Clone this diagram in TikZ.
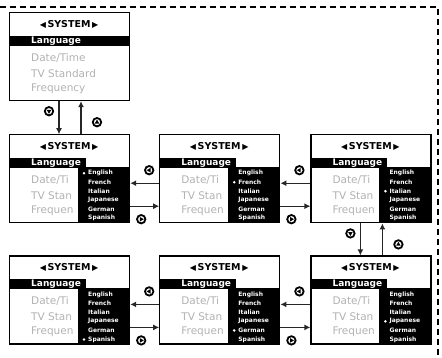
\documentclass[tikz,border=0pt]{standalone}
\usepackage{fontspec}
\setmainfont{DejaVu Sans}
\usetikzlibrary{arrows,arrows.meta,positioning}

\tikzstyle{screen} = [rectangle, draw, line width=1.2pt, minimum width=120pt,
    minimum height=88pt, inner sep=0pt]
\tikzstyle{head} = [inner sep=0pt, font=\bfseries\fontsize{9.5}{9.5}\selectfont]
\tikzstyle{item} = [anchor=west, inner sep=0pt, text=black!30,
    font=\fontsize{10.5}{10.5}\selectfont]
\tikzstyle{sel} = [anchor=west, inner sep=0pt, text=white,
    font=\bfseries\fontsize{9}{9}\selectfont]
\tikzstyle{lang} = [anchor=west, inner sep=0pt, text=white,
    font=\bfseries\fontsize{6}{6}\selectfont]
\tikzstyle{link} = [->, >={Latex[length=6pt,width=6pt]}, line width=1.2pt, black!85]

\tikzset{pics/keybtn/.style={code={
    \draw[black, line width=1.8pt] (0,0) circle (4.2pt);
    \fill[black] (#1:2.6pt) -- (#1+120:2.6pt) -- (#1+240:2.6pt) -- cycle;}}}

% #1 screen node, #2 marked language (0 = no list open)
\newcommand{\screenbody}[2]{
  \begin{scope}[shift={(#1.north west)}]
    \node[head] (#1-head) at (60,-12)
      {{\fontsize{8}{8}\selectfont ◀}\,SYSTEM\,{\fontsize{8}{8}\selectfont ▶}};
    \ifnum#2=0
      \fill[black] (0,-24) rectangle (120,-34);
      \node[sel] (#1-sel) at (22,-29) {Language};
      \node[item] (#1-date) at (22,-46) {Date/Time};
      \node[item] (#1-tv) at (22,-61.5) {TV Standard};
      \node[item] (#1-freq) at (22,-76.5) {Frequency};
    \else
      \fill[black] (0,-24) rectangle (77,-34);
      \node[sel] (#1-sel) at (22,-29) {Language};
      \node[item] (#1-date) at (22,-46) {Date/Ti};
      \node[item] (#1-tv) at (22,-61.5) {TV Stan};
      \node[item] (#1-freq) at (22,-76.5) {Frequen};
      \fill[black] (69,-33) rectangle (120,-88);
      \foreach \lng [count=\i] in {English,French,Italian,Japanese,German,Spanish} {
        \node[lang] (#1-l\i) at (79,{-39-9*(\i-1)}) {\lng};
        \ifnum\i=#2 \fill[white] (75,{-39-9*(\i-1)}) circle (1.4pt); \fi
      }
    \fi
  \end{scope}}

\begin{document}
\begin{tikzpicture}[x=1pt,y=1pt]
  \useasboundingbox (0,0) rectangle (442,-357);

  \node[screen] (s1) at (9,-12) [anchor=north west] {};
  \node[screen] (s2a) [below=33pt of s1] {};
  \node[screen] (s2b) [right=29pt of s2a] {};
  \node[screen] (s2c) [right=30pt of s2b] {};
  \node[screen] (s3c) [below=32pt of s2c] {};
  \node[screen] (s3b) [left=30pt of s3c] {};
  \node[screen] (s3a) [left=29pt of s3b] {};

  \screenbody{s1}{0}
  \screenbody{s2a}{1}
  \screenbody{s2b}{2}
  \screenbody{s2c}{3}
  \screenbody{s3c}{4}
  \screenbody{s3b}{5}
  \screenbody{s3a}{6}

  % up / down between rows
  \foreach \a/\b in {s1/s2a, s2c/s3c} {
    \draw[link] ([xshift=50pt]\a.south west) -- ([xshift=50pt]\b.north west);
    \draw[link] ([xshift=72pt]\b.north west) -- ([xshift=72pt]\a.south west);
    \pic at ([xshift=40pt,yshift=-10pt]\a.south west) {keybtn=-90};
    \pic at ([xshift=88pt,yshift=-21pt]\a.south west) {keybtn=90};
  }

  % left / right along a row
  \foreach \a/\b in {s2a/s2b, s2b/s2c, s3a/s3b, s3b/s3c} {
    \draw[link] ([yshift=-49pt]\b.north west) -- ([yshift=-49pt]\a.north east);
    \draw[link] ([yshift=-72pt]\a.north east) -- ([yshift=-72pt]\b.north west);
    \pic at ([xshift=19pt,yshift=-36pt]\a.north east) {keybtn=180};
    \pic at ([xshift=11pt,yshift=-85pt]\a.north east) {keybtn=0};
  }

  \draw[dashed, line width=1.6pt, dash pattern=on 6pt off 4pt]
    (0,-7) -- (438,-7) -- (438,-357);
\end{tikzpicture}
\end{document}
